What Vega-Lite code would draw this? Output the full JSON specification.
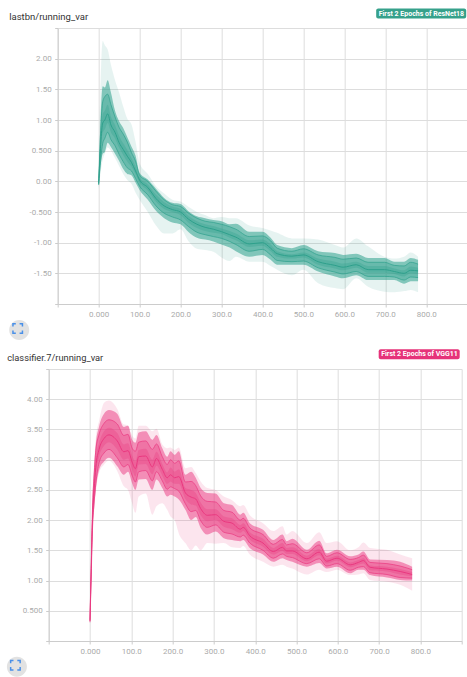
{"$schema":"https://vega.github.io/schema/vega-lite/v6.json","padding":{"left":6.7,"top":8,"right":0,"bottom":0},"background":"white","spacing":341,"bounds":"flush","align":"none",
"config":{"font":"Roboto","view":{"stroke":null},"axis":{"domainColor":"#ccc","tickColor":"#ccc","gridColor":"#ddd","labelColor":"#aaa","labelFontSize":8,"labelFont":"Roboto","title":null,"tickSize":3,"labelPadding":3.5,"labelOverlap":false}},
"datasets":{
"resnet":[
{"step":0,"min":-0.13,"p7":-0.07,"p16":-0.06,"p31":-0.05,"p50":-0.04,"p69":-0.03,"p84":-0.02,"p93":-0.01,"max":0},
{"step":10,"min":0.35,"p7":0.45,"p16":0.62,"p31":0.8,"p50":0.95,"p69":1.1,"p84":1.3,"p93":1.55,"max":2.29},
{"step":15,"min":0.45,"p7":0.48,"p16":0.7,"p31":0.85,"p50":1,"p69":1.15,"p84":1.38,"p93":1.53,"max":2.22},
{"step":22,"min":0.55,"p7":0.63,"p16":0.8,"p31":0.95,"p50":1.1,"p69":1.25,"p84":1.42,"p93":1.65,"max":2.15},
{"step":30,"min":0.5,"p7":0.56,"p16":0.68,"p31":0.8,"p50":0.92,"p69":1.05,"p84":1.25,"p93":1.45,"max":1.9},
{"step":40,"min":0.38,"p7":0.45,"p16":0.58,"p31":0.7,"p50":0.8,"p69":0.92,"p84":1.05,"p93":1.15,"max":1.65},
{"step":50,"min":0.25,"p7":0.33,"p16":0.44,"p31":0.55,"p50":0.63,"p69":0.74,"p84":0.88,"p93":0.98,"max":1.45},
{"step":60,"min":0.12,"p7":0.2,"p16":0.32,"p31":0.43,"p50":0.52,"p69":0.62,"p84":0.77,"p93":0.87,"max":1.22},
{"step":70,"min":0.02,"p7":0.12,"p16":0.22,"p31":0.32,"p50":0.41,"p69":0.51,"p84":0.64,"p93":0.72,"max":1.02},
{"step":80,"min":-0.04,"p7":0.1,"p16":0.17,"p31":0.24,"p50":0.31,"p69":0.38,"p84":0.47,"p93":0.57,"max":0.93},
{"step":90,"min":-0.18,"p7":-0.02,"p16":0.05,"p31":0.12,"p50":0.17,"p69":0.24,"p84":0.33,"p93":0.42,"max":0.65},
{"step":100,"min":-0.3,"p7":-0.14,"p16":-0.08,"p31":-0.02,"p50":0.02,"p69":0.06,"p84":0.1,"p93":0.14,"max":0.3},
{"step":120,"min":-0.5,"p7":-0.3,"p16":-0.22,"p31":-0.15,"p50":-0.1,"p69":-0.05,"p84":0,"p93":0.03,"max":0.12},
{"step":140,"min":-0.72,"p7":-0.48,"p16":-0.4,"p31":-0.33,"p50":-0.28,"p69":-0.22,"p84":-0.16,"p93":-0.12,"max":-0.08},
{"step":160,"min":-0.85,"p7":-0.6,"p16":-0.52,"p31":-0.45,"p50":-0.4,"p69":-0.34,"p84":-0.3,"p93":-0.27,"max":-0.2},
{"step":180,"min":-0.85,"p7":-0.67,"p16":-0.58,"p31":-0.5,"p50":-0.46,"p69":-0.41,"p84":-0.38,"p93":-0.35,"max":-0.3},
{"step":200,"min":-0.78,"p7":-0.7,"p16":-0.63,"p31":-0.55,"p50":-0.5,"p69":-0.45,"p84":-0.41,"p93":-0.37,"max":-0.33},
{"step":220,"min":-0.98,"p7":-0.83,"p16":-0.74,"p31":-0.68,"p50":-0.62,"p69":-0.57,"p84":-0.52,"p93":-0.49,"max":-0.42},
{"step":240,"min":-1.1,"p7":-0.92,"p16":-0.83,"p31":-0.76,"p50":-0.7,"p69":-0.65,"p84":-0.6,"p93":-0.57,"max":-0.5},
{"step":260,"min":-1.12,"p7":-0.95,"p16":-0.87,"p31":-0.81,"p50":-0.75,"p69":-0.7,"p84":-0.65,"p93":-0.6,"max":-0.55},
{"step":280,"min":-1.15,"p7":-0.98,"p16":-0.9,"p31":-0.84,"p50":-0.78,"p69":-0.73,"p84":-0.67,"p93":-0.63,"max":-0.6},
{"step":300,"min":-1.24,"p7":-1.03,"p16":-0.93,"p31":-0.86,"p50":-0.82,"p69":-0.77,"p84":-0.7,"p93":-0.65,"max":-0.58},
{"step":320,"min":-1.3,"p7":-1.08,"p16":-0.98,"p31":-0.92,"p50":-0.87,"p69":-0.81,"p84":-0.74,"p93":-0.7,"max":-0.6},
{"step":335,"min":-1.23,"p7":-1.14,"p16":-1.03,"p31":-0.96,"p50":-0.91,"p69":-0.85,"p84":-0.78,"p93":-0.69,"max":-0.6},
{"step":368,"min":-1.31,"p7":-1.23,"p16":-1.14,"p31":-1.07,"p50":-1.02,"p69":-0.96,"p84":-0.9,"p93":-0.82,"max":-0.72},
{"step":400,"min":-1.31,"p7":-1.2,"p16":-1.11,"p31":-1.05,"p50":-1,"p69":-0.95,"p84":-0.89,"p93":-0.82,"max":-0.76},
{"step":420,"min":-1.38,"p7":-1.28,"p16":-1.2,"p31":-1.14,"p50":-1.09,"p69":-1.03,"p84":-0.97,"p93":-0.92,"max":-0.8},
{"step":436,"min":-1.44,"p7":-1.36,"p16":-1.29,"p31":-1.23,"p50":-1.18,"p69":-1.14,"p84":-1.09,"p93":-1.04,"max":-0.84},
{"step":472,"min":-1.53,"p7":-1.36,"p16":-1.31,"p31":-1.26,"p50":-1.22,"p69":-1.19,"p84":-1.14,"p93":-1.09,"max":-0.93},
{"step":500,"min":-1.44,"p7":-1.36,"p16":-1.3,"p31":-1.24,"p50":-1.2,"p69":-1.16,"p84":-1.1,"p93":-1.04,"max":-0.93},
{"step":536,"min":-1.66,"p7":-1.47,"p16":-1.41,"p31":-1.36,"p50":-1.31,"p69":-1.26,"p84":-1.2,"p93":-1.14,"max":-0.95},
{"step":577,"min":-1.74,"p7":-1.55,"p16":-1.48,"p31":-1.42,"p50":-1.37,"p69":-1.31,"p84":-1.24,"p93":-1.17,"max":-1.04},
{"step":597,"min":-1.76,"p7":-1.58,"p16":-1.51,"p31":-1.45,"p50":-1.4,"p69":-1.34,"p84":-1.27,"p93":-1.2,"max":-1.08},
{"step":629,"min":-1.58,"p7":-1.53,"p16":-1.47,"p31":-1.41,"p50":-1.36,"p69":-1.31,"p84":-1.25,"p93":-1.18,"max":-0.93},
{"step":658,"min":-1.72,"p7":-1.61,"p16":-1.55,"p31":-1.49,"p50":-1.44,"p69":-1.38,"p84":-1.32,"p93":-1.25,"max":-1.06},
{"step":698,"min":-1.8,"p7":-1.61,"p16":-1.55,"p31":-1.49,"p50":-1.44,"p69":-1.38,"p84":-1.32,"p93":-1.25,"max":-1.23},
{"step":722,"min":-1.81,"p7":-1.61,"p16":-1.56,"p31":-1.51,"p50":-1.47,"p69":-1.42,"p84":-1.37,"p93":-1.31,"max":-1.26},
{"step":746,"min":-1.79,"p7":-1.67,"p16":-1.61,"p31":-1.55,"p50":-1.5,"p69":-1.45,"p84":-1.38,"p93":-1.31,"max":-1.23},
{"step":762,"min":-1.77,"p7":-1.63,"p16":-1.56,"p31":-1.5,"p50":-1.45,"p69":-1.39,"p84":-1.32,"p93":-1.25,"max":-1.16},
{"step":780,"min":-1.81,"p7":-1.63,"p16":-1.57,"p31":-1.51,"p50":-1.46,"p69":-1.41,"p84":-1.35,"p93":-1.28,"max":-1.23}
],
"vgg":[
{"step":0,"min":0.28,"p7":0.3,"p16":0.31,"p31":0.32,"p50":0.33,"p69":0.34,"p84":0.35,"p93":0.36,"max":0.38},
{"step":3,"min":1,"p7":1.05,"p16":1.1,"p31":1.15,"p50":1.2,"p69":1.25,"p84":1.3,"p93":1.35,"max":1.4},
{"step":6,"min":1.7,"p7":1.78,"p16":1.85,"p31":1.92,"p50":2,"p69":2.08,"p84":2.18,"p93":2.28,"max":2.35},
{"step":10,"min":2.15,"p7":2.2,"p16":2.3,"p31":2.4,"p50":2.5,"p69":2.62,"p84":2.75,"p93":2.85,"max":2.95},
{"step":14,"min":2.45,"p7":2.5,"p16":2.6,"p31":2.75,"p50":2.87,"p69":3,"p84":3.15,"p93":3.25,"max":3.35},
{"step":22,"min":2.78,"p7":2.83,"p16":2.95,"p31":3.05,"p50":3.17,"p69":3.27,"p84":3.42,"p93":3.55,"max":3.64},
{"step":34,"min":2.92,"p7":2.97,"p16":3.11,"p31":3.23,"p50":3.35,"p69":3.47,"p84":3.6,"p93":3.76,"max":3.94},
{"step":46,"min":2.98,"p7":3.03,"p16":3.17,"p31":3.29,"p50":3.41,"p69":3.53,"p84":3.66,"p93":3.82,"max":3.98},
{"step":66,"min":2.81,"p7":2.89,"p16":3.03,"p31":3.17,"p50":3.31,"p69":3.44,"p84":3.59,"p93":3.76,"max":3.84},
{"step":82,"min":2.56,"p7":2.75,"p16":2.88,"p31":3,"p50":3.13,"p69":3.25,"p84":3.4,"p93":3.54,"max":3.58},
{"step":92,"min":2.5,"p7":2.8,"p16":2.92,"p31":3.02,"p50":3.15,"p69":3.27,"p84":3.42,"p93":3.56,"max":3.57},
{"step":102,"min":2.28,"p7":2.61,"p16":2.74,"p31":2.84,"p50":2.96,"p69":3.07,"p84":3.19,"p93":3.33,"max":3.4},
{"step":110,"min":2.12,"p7":2.5,"p16":2.63,"p31":2.72,"p50":2.85,"p69":2.97,"p84":3.14,"p93":3.28,"max":3.35},
{"step":118,"min":2.39,"p7":2.67,"p16":2.8,"p31":2.92,"p50":3.05,"p69":3.16,"p84":3.29,"p93":3.45,"max":3.56},
{"step":135,"min":2.44,"p7":2.68,"p16":2.82,"p31":2.93,"p50":3.06,"p69":3.18,"p84":3.31,"p93":3.47,"max":3.56},
{"step":151,"min":2.09,"p7":2.5,"p16":2.65,"p31":2.76,"p50":2.88,"p69":3,"p84":3.17,"p93":3.33,"max":3.47},
{"step":161,"min":2.23,"p7":2.67,"p16":2.8,"p31":2.9,"p50":3.02,"p69":3.13,"p84":3.26,"p93":3.41,"max":3.51},
{"step":175,"min":2.28,"p7":2.53,"p16":2.65,"p31":2.74,"p50":2.84,"p69":2.93,"p84":3.05,"p93":3.19,"max":3.25},
{"step":187,"min":2.17,"p7":2.39,"p16":2.51,"p31":2.6,"p50":2.7,"p69":2.79,"p84":2.92,"p93":3.05,"max":3.19},
{"step":195,"min":2.06,"p7":2.42,"p16":2.55,"p31":2.64,"p50":2.75,"p69":2.87,"p84":3,"p93":3.14,"max":3.2},
{"step":205,"min":2,"p7":2.39,"p16":2.52,"p31":2.6,"p50":2.7,"p69":2.8,"p84":2.94,"p93":3.08,"max":3.16},
{"step":215,"min":1.78,"p7":2.34,"p16":2.48,"p31":2.6,"p50":2.72,"p69":2.84,"p84":2.98,"p93":3.14,"max":3.2},
{"step":231,"min":1.62,"p7":2.17,"p16":2.27,"p31":2.35,"p50":2.45,"p69":2.53,"p84":2.63,"p93":2.75,"max":2.86},
{"step":245,"min":1.5,"p7":2,"p16":2.14,"p31":2.26,"p50":2.38,"p69":2.5,"p84":2.64,"p93":2.8,"max":2.88},
{"step":256,"min":1.58,"p7":2.05,"p16":2.16,"p31":2.24,"p50":2.35,"p69":2.45,"p84":2.57,"p93":2.7,"max":2.78},
{"step":268,"min":1.5,"p7":1.87,"p16":1.99,"p31":2.08,"p50":2.19,"p69":2.29,"p84":2.4,"p93":2.53,"max":2.64},
{"step":284,"min":1.62,"p7":1.76,"p16":1.88,"p31":1.98,"p50":2.08,"p69":2.18,"p84":2.31,"p93":2.45,"max":2.53},
{"step":304,"min":1.61,"p7":1.81,"p16":1.92,"p31":2,"p50":2.09,"p69":2.18,"p84":2.3,"p93":2.44,"max":2.5},
{"step":324,"min":1.62,"p7":1.7,"p16":1.8,"p31":1.89,"p50":1.98,"p69":2.06,"p84":2.16,"p93":2.28,"max":2.39},
{"step":344,"min":1.55,"p7":1.67,"p16":1.77,"p31":1.85,"p50":1.95,"p69":2.03,"p84":2.13,"p93":2.25,"max":2.33},
{"step":364,"min":1.54,"p7":1.65,"p16":1.72,"p31":1.79,"p50":1.85,"p69":1.92,"p84":2,"p93":2.09,"max":2.23},
{"step":371,"min":1.57,"p7":1.67,"p16":1.75,"p31":1.82,"p50":1.88,"p69":1.95,"p84":2.03,"p93":2.12,"max":2.25},
{"step":387,"min":1.43,"p7":1.54,"p16":1.62,"p31":1.68,"p50":1.74,"p69":1.8,"p84":1.87,"p93":1.95,"max":2.08},
{"step":419,"min":1.31,"p7":1.43,"p16":1.5,"p31":1.56,"p50":1.62,"p69":1.69,"p84":1.76,"p93":1.84,"max":1.95},
{"step":444,"min":1.23,"p7":1.31,"p16":1.37,"p31":1.43,"p50":1.48,"p69":1.54,"p84":1.6,"p93":1.67,"max":1.82},
{"step":466,"min":1.26,"p7":1.37,"p16":1.44,"p31":1.49,"p50":1.55,"p69":1.62,"p84":1.68,"p93":1.76,"max":1.9},
{"step":476,"min":1.23,"p7":1.34,"p16":1.4,"p31":1.44,"p50":1.49,"p69":1.54,"p84":1.59,"p93":1.65,"max":1.76},
{"step":490,"min":1.2,"p7":1.31,"p16":1.38,"p31":1.44,"p50":1.49,"p69":1.55,"p84":1.61,"p93":1.69,"max":1.82},
{"step":525,"min":1.1,"p7":1.23,"p16":1.28,"p31":1.32,"p50":1.36,"p69":1.41,"p84":1.46,"p93":1.51,"max":1.62},
{"step":555,"min":1.18,"p7":1.29,"p16":1.36,"p31":1.42,"p50":1.47,"p69":1.52,"p84":1.59,"p93":1.66,"max":1.8},
{"step":573,"min":1.14,"p7":1.2,"p16":1.24,"p31":1.28,"p50":1.32,"p69":1.36,"p84":1.4,"p93":1.45,"max":1.62},
{"step":598,"min":1.18,"p7":1.23,"p16":1.28,"p31":1.33,"p50":1.37,"p69":1.41,"p84":1.46,"p93":1.51,"max":1.65},
{"step":630,"min":1.09,"p7":1.12,"p16":1.17,"p31":1.22,"p50":1.26,"p69":1.3,"p84":1.35,"p93":1.4,"max":1.5},
{"step":650,"min":1.1,"p7":1.18,"p16":1.22,"p31":1.26,"p50":1.3,"p69":1.34,"p84":1.38,"p93":1.43,"max":1.55},
{"step":662,"min":1.12,"p7":1.18,"p16":1.23,"p31":1.28,"p50":1.33,"p69":1.37,"p84":1.42,"p93":1.48,"max":1.63},
{"step":678,"min":1.01,"p7":1.09,"p16":1.13,"p31":1.17,"p50":1.22,"p69":1.25,"p84":1.3,"p93":1.35,"max":1.54},
{"step":719,"min":0.98,"p7":1.05,"p16":1.1,"p31":1.15,"p50":1.19,"p69":1.23,"p84":1.28,"p93":1.34,"max":1.51},
{"step":751,"min":0.93,"p7":1.01,"p16":1.05,"p31":1.1,"p50":1.15,"p69":1.19,"p84":1.24,"p93":1.31,"max":1.43},
{"step":780,"min":0.83,"p7":1,"p16":1.04,"p31":1.07,"p50":1.1,"p69":1.14,"p84":1.18,"p93":1.23,"max":1.37}
],
"control":[{"action":"fullscreen"}]
},
"vconcat":[
{"bounds":"flush","align":"none","spacing":8,"hconcat":[
{"width":1,"height":1,"data":{"name":"control"},"mark":{"type":"point","opacity":0},"encoding":{}},
{"width":409.5,"height":276,
"title":{"text":"lastbn/running_var","anchor":"start","frame":"group","dx":-48.5,"dy":17.5,"offset":5,"fontSize":9.5,"fontWeight":"normal","color":"#333","font":"Roboto"},
"layer":[
{"data":{"name":"resnet"},"layer":[
{"mark":{"type":"area","color":"#2ea08c","opacity":0.12,"interpolate":"monotone"},"encoding":{"x":{"field":"step","type":"quantitative","scale":{"domain":[-100,893]},"axis":{"values":[-100,0,100,200,300,400,500,600,700,800],"tickCount":12,"grid":true,"labelExpr":"datum.value<0?'':datum.value==0?'0.000':format(datum.value,'.4r')"}},"y":{"field":"max","type":"quantitative","scale":{"domain":[-2,2.5]},"axis":{"values":[-2,-1.5,-1,-0.5,0,0.5,1,1.5,2,2.5],"tickCount":12,"grid":true,"labelExpr":"(datum.value==-2||datum.value==2.5)?'':datum.value==0?'0.00':replace(format(datum.value,'.3r'),'\u2212','-')"}},"y2":{"field":"min"}}},
{"mark":{"type":"area","color":"#2ea08c","opacity":0.55,"interpolate":"monotone"},"encoding":{"x":{"field":"step","type":"quantitative"},"y":{"field":"p93","type":"quantitative"},"y2":{"field":"p7"}}},
{"mark":{"type":"area","color":"#2ea08c","opacity":0.3,"interpolate":"monotone"},"encoding":{"x":{"field":"step","type":"quantitative"},"y":{"field":"p84","type":"quantitative"},"y2":{"field":"p16"}}},
{"mark":{"type":"area","color":"#2ea08c","opacity":0.3,"interpolate":"monotone"},"encoding":{"x":{"field":"step","type":"quantitative"},"y":{"field":"p69","type":"quantitative"},"y2":{"field":"p31"}}},
{"mark":{"type":"line","strokeWidth":0.7,"color":"#2ea08c","interpolate":"monotone"},"encoding":{"x":{"field":"step","type":"quantitative"},"y":{"field":"p84","type":"quantitative"}}},
{"mark":{"type":"line","strokeWidth":0.7,"color":"#2ea08c","interpolate":"monotone"},"encoding":{"x":{"field":"step","type":"quantitative"},"y":{"field":"p16","type":"quantitative"}}},
{"mark":{"type":"line","strokeWidth":1,"color":"#2ea08c","interpolate":"monotone"},"encoding":{"x":{"field":"step","type":"quantitative"},"y":{"field":"p50","type":"quantitative"},"color":{"datum":"First 2 Epochs of ResNet18","scale":{"range":["#2ea08c"]},"legend":{"orient":"none","legendX":318.5,"legendY":-19.5,"title":null,"fillColor":"#36a18b","cornerRadius":2,"padding":1.5,"labelColor":"white","labelFontWeight":"bold","labelFontSize":7,"labelFont":"Roboto","labelLimit":200,"symbolSize":1,"symbolOpacity":0,"symbolStrokeWidth":0,"labelOffset":-6}}}}
]},
{"data":{"name":"control"},"mark":{"type":"point","opacity":0,"filled":false},"encoding":{"shape":{"field":"action","type":"nominal","scale":{"range":["M-1,-0.4V-1H-0.4M0.4,-1H1V-0.4M1,0.4V1H0.4M-0.4,1H-1V0.4"]},"legend":{"orient":"none","legendX":-48.5,"legendY":292,"title":null,"fillColor":"#e2e2e2","cornerRadius":10.5,"padding":3,"symbolSize":90,"symbolStrokeColor":"#4a90e8","symbolStrokeWidth":1.5,"symbolFillColor":"transparent","symbolOpacity":1,"labelExpr":"''","labelFontSize":0,"labelOffset":0}}}}
],"resolve":{"scale":{"shape":"independent","color":"independent"}}}
]},
{"width":413,"height":272,
"title":{"text":"classifier.7/running_var","anchor":"start","frame":"group","dx":-41.5,"dy":19.5,"offset":5,"fontSize":9.3,"fontWeight":"normal","color":"#333","font":"Roboto"},
"layer":[
{"data":{"name":"vgg"},"layer":[
{"mark":{"type":"area","color":"#e9387f","opacity":0.13,"interpolate":"monotone"},"encoding":{"x":{"field":"step","type":"quantitative","scale":{"domain":[-100,899]},"axis":{"values":[-100,0,100,200,300,400,500,600,700,800,899],"tickCount":12,"grid":true,"labelExpr":"(datum.value<0||datum.value>800)?'':datum.value==0?'0.000':format(datum.value,'.4r')"}},"y":{"field":"max","type":"quantitative","scale":{"domain":[0,4.5]},"axis":{"values":[0,0.5,1,1.5,2,2.5,3,3.5,4,4.5],"tickCount":12,"grid":true,"labelExpr":"(datum.value==0||datum.value==4.5)?'':format(datum.value,'.3r')"}},"y2":{"field":"min"}}},
{"mark":{"type":"area","color":"#e9387f","opacity":0.5,"interpolate":"monotone"},"encoding":{"x":{"field":"step","type":"quantitative"},"y":{"field":"p93","type":"quantitative"},"y2":{"field":"p7"}}},
{"mark":{"type":"area","color":"#e9387f","opacity":0.3,"interpolate":"monotone"},"encoding":{"x":{"field":"step","type":"quantitative"},"y":{"field":"p84","type":"quantitative"},"y2":{"field":"p16"}}},
{"mark":{"type":"area","color":"#e9387f","opacity":0.3,"interpolate":"monotone"},"encoding":{"x":{"field":"step","type":"quantitative"},"y":{"field":"p69","type":"quantitative"},"y2":{"field":"p31"}}},
{"mark":{"type":"line","strokeWidth":0.7,"color":"#e9387f","interpolate":"monotone"},"encoding":{"x":{"field":"step","type":"quantitative"},"y":{"field":"p84","type":"quantitative"}}},
{"mark":{"type":"line","strokeWidth":0.7,"color":"#e9387f","interpolate":"monotone"},"encoding":{"x":{"field":"step","type":"quantitative"},"y":{"field":"p16","type":"quantitative"}}},
{"mark":{"type":"line","strokeWidth":1,"color":"#e9387f","interpolate":"monotone"},"encoding":{"x":{"field":"step","type":"quantitative"},"y":{"field":"p50","type":"quantitative"},"color":{"datum":"First 2 Epochs of VGG11","scale":{"range":["#e9387f"]},"legend":{"orient":"none","legendX":330,"legendY":-19.7,"title":null,"fillColor":"#e6337a","cornerRadius":2,"padding":1.5,"labelColor":"white","labelFontWeight":"bold","labelFontSize":7,"labelFont":"Roboto","labelLimit":200,"symbolSize":1,"symbolOpacity":0,"symbolStrokeWidth":0,"labelOffset":-6}}}}
]},
{"data":{"name":"control"},"mark":{"type":"point","opacity":0,"filled":false},"encoding":{"shape":{"field":"action","type":"nominal","scale":{"range":["M-1,-0.4V-1H-0.4M0.4,-1H1V-0.4M1,0.4V1H0.4M-0.4,1H-1V0.4"]},"legend":{"orient":"none","legendX":-41.8,"legendY":287.7,"title":null,"fillColor":"#e2e2e2","cornerRadius":10.5,"padding":3,"symbolSize":90,"symbolStrokeColor":"#4a90e8","symbolStrokeWidth":1.5,"symbolFillColor":"transparent","symbolOpacity":1,"labelExpr":"''","labelFontSize":0,"labelOffset":0}}}}
],"resolve":{"scale":{"shape":"independent","color":"independent"}}}
]}
